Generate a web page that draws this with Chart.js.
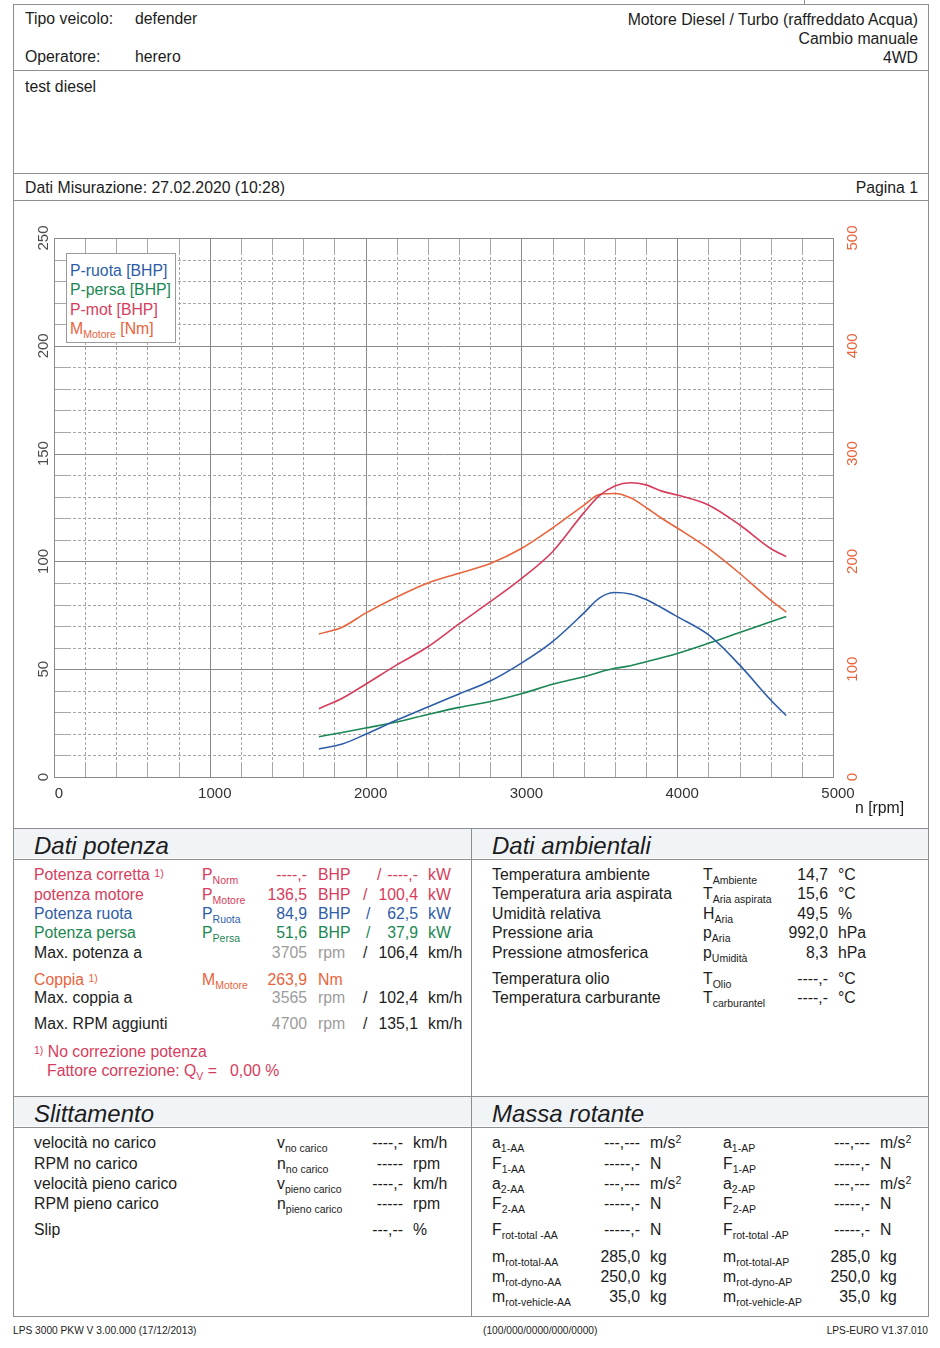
<!DOCTYPE html>
<html lang="it">
<head>
<meta charset="utf-8">
<title>defender - test diesel</title>
<script src="https://cdn.jsdelivr.net/npm/chart.js@4.4.1/dist/chart.umd.min.js"></script>
<style>
  html, body { margin: 0; padding: 0; background: #fff; }
  #page { position: relative; width: 940px; height: 1348px; overflow: hidden;
          font-family: "Liberation Sans", Arial, sans-serif; color: #1c1c1c; }
  .t { position: absolute; white-space: nowrap; font-size: 15.8px; line-height: 18px; }
  .t sub { font-size: 10.5px; vertical-align: -4px; line-height: 0; }
  .n1 { font-size: 10.5px; position: relative; top: -3px; }
  .sq { font-size: 10.5px; position: relative; top: -5px; }
  .hl { position: absolute; height: 0; border-top: 1px solid #8e8e8e; }
  .vl { position: absolute; width: 0; border-left: 1px solid #8e8e8e; }
  .band { position: absolute; background: #f1f4f7; }
  .h2 { font-size: 24px; font-style: italic; line-height: 26px; }
  .ft { font-size: 10.2px; }
  .red { color: #d63d5c; } .blu { color: #2d5da8; } .grn { color: #1b8752; }
  .ora { color: #e8643c; } .gry { color: #9c9c9c; }
  #chartBox { position: absolute; left: 13px; top: 201px; width: 915px; height: 626px; }
  #legend { position: absolute; left: 66px; top: 253px; width: 108px; height: 88px;
            border: 1px solid #9a9a9a; background: #fff; z-index: 2; }
</style>
</head>
<body>
<div id="page">
  <div class="band" style="left:14px; top:829px; width:914px; height:29px;"></div>
  <div class="band" style="left:14px; top:1097px; width:914px; height:29px;"></div>
  <div id="chartBox"><canvas id="dyno" width="915" height="626"></canvas></div>
  <div id="legend"></div>
</div>
<script>
// engine speed of each sample [rpm]
const rpm = [1700, 1850, 2000, 2200, 2400, 2600, 2800, 3000, 3200, 3400,
             3500, 3600, 3700, 3800, 3900, 4000, 4200, 4400, 4600, 4700];
// wheel power [BHP]
const pRuota = [13.0, 15.3, 19.8, 26.4, 32.5, 38.5, 44.5, 52.8, 62.8, 76.0,
                83.0, 85.6, 84.9, 82.3, 78.5, 74.4, 66.0, 52.0, 35.7, 28.5];
// lost power [BHP]
const pPersa = [18.7, 20.6, 22.7, 25.5, 29.0, 32.3, 35.0, 38.6, 43.0, 46.5,
                48.6, 50.4, 51.6, 53.5, 55.3, 57.3, 62.0, 67.0, 72.0, 74.4];
// engine power [BHP]
const pMot = [31.7, 36.5, 43.0, 52.0, 60.4, 71.0, 81.3, 92.0, 104.5, 122.5,
              130.5, 135.0, 136.5, 135.5, 132.6, 130.8, 126.2, 117.0, 106.0, 102.2];
// engine torque [Nm]
const mMotore = [132.7, 139.0, 152.0, 167.0, 180.0, 189.0, 198.0, 212.0, 231.0, 252.0,
                 262.0, 263.0, 259.0, 250.0, 240.0, 231.0, 212.0, 189.0, 164.0, 153.0];

const rpmTicks = [0, 1000, 2000, 3000, 4000, 5000];
const powerTicks = [0, 50, 100, 150, 200, 250];
const torqueTicks = [0, 100, 200, 300, 400, 500];

const C_BLUE = '#2d5da8', C_GREEN = '#1b8752', C_RED = '#d63d5c', C_ORANGE = '#e8643c';

const page = document.getElementById('page');

function txt(x, yc, html, cls = '', align = 'left') {
  const d = document.createElement('div');
  d.className = 't ' + cls;
  d.innerHTML = html;
  d.style.top = (yc - 9) + 'px';
  if (align === 'right') d.style.right = (940 - x) + 'px';
  else d.style.left = x + 'px';
  page.appendChild(d);
  return d;
}
function hline(y, x1 = 13, x2 = 928) {
  const d = document.createElement('div');
  d.className = 'hl';
  d.style.cssText = `top:${y}px; left:${x1}px; width:${x2 - x1}px;`;
  page.appendChild(d);
}
function vline(x, y1, y2) {
  const d = document.createElement('div');
  d.className = 'vl';
  d.style.cssText = `left:${x}px; top:${y1}px; height:${y2 - y1}px;`;
  page.appendChild(d);
}

// frame
[4, 70, 173, 200, 828, 859, 1096, 1127, 1316].forEach(y => hline(y));
vline(13, 4, 1317); vline(928, 4, 1317); vline(471, 828, 1317); vline(804, 0, 4);

// header
txt(25, 19, 'Tipo veicolo:'); txt(135, 19, 'defender');
txt(25, 57, 'Operatore:'); txt(135, 57, 'herero');
txt(918, 20, 'Motore Diesel / Turbo (raffreddato Acqua)', '', 'right');
txt(918, 39, 'Cambio manuale', '', 'right');
txt(918, 58, '4WD', '', 'right');
txt(25, 87, 'test diesel');
txt(25, 188, 'Dati Misurazione: 27.02.2020 (10:28)');
txt(918, 188, 'Pagina 1', '', 'right');
txt(855, 808, 'n [rpm]');

// legend
const legendItems = [
  ['P-ruota [BHP]', C_BLUE], ['P-persa [BHP]', C_GREEN],
  ['P-mot [BHP]', C_RED], ['M<sub>Motore</sub> [Nm]', C_ORANGE]
];
const lg = document.getElementById('legend');
legendItems.forEach((it, i) => {
  const d = document.createElement('div');
  d.className = 't';
  d.style.cssText = `left:3px; top:${8 + i * 19.3}px; color:${it[1]};`;
  d.innerHTML = it[0];
  lg.appendChild(d);
});

// Dati potenza
txt(34, 842, 'Dati potenza', 'h2');
function powerRow(y, cls, label, sym, v1, u1, v2, u2, slashX = 363) {
  txt(34, y, label, cls);
  if (sym) txt(202, y, sym, cls);
  txt(307, y, v1, cls, 'right'); txt(318, y, u1, cls);
  if (v2 !== undefined) {
    txt(slashX, y, '/', cls); txt(418, y, v2, cls, 'right'); txt(428, y, u2, cls);
  }
}
powerRow(875, 'red', 'Potenza corretta <span class="n1">1)</span>', 'P<sub>Norm</sub>', '----,-', 'BHP', '----,-', 'kW', 377);
powerRow(895, 'red', 'potenza motore', 'P<sub>Motore</sub>', '136,5', 'BHP', '100,4', 'kW');
powerRow(914, 'blu', 'Potenza ruota', 'P<sub>Ruota</sub>', '84,9', 'BHP', '62,5', 'kW', 366);
powerRow(933, 'grn', 'Potenza persa', 'P<sub>Persa</sub>', '51,6', 'BHP', '37,9', 'kW', 366);
function maxRow(y, label, n, v) {
  txt(34, y, label);
  txt(307, y, n, 'gry', 'right'); txt(318, y, 'rpm', 'gry');
  txt(363, y, '/'); txt(418, y, v, '', 'right'); txt(428, y, 'km/h');
}
maxRow(953, 'Max. potenza a', '3705', '106,4');
powerRow(980, 'ora', 'Coppia <span class="n1">1)</span>', 'M<sub>Motore</sub>', '263,9', 'Nm');
maxRow(998, 'Max. coppia a', '3565', '102,4');
maxRow(1024, 'Max. RPM aggiunti', '4700', '135,1');
txt(34, 1052, '<span class="n1">1)</span> No correzione potenza', 'red');
txt(47, 1071, 'Fattore correzione: Q<sub>V</sub> =&nbsp;&nbsp; 0,00 %', 'red');

// Dati ambientali
txt(492, 842, 'Dati ambientali', 'h2');
[
  [875, 'Temperatura ambiente', 'T<sub>Ambiente</sub>', '14,7', '°C'],
  [894, 'Temperatura aria aspirata', 'T<sub>Aria aspirata</sub>', '15,6', '°C'],
  [914, 'Umidità relativa', 'H<sub>Aria</sub>', '49,5', '%'],
  [933, 'Pressione aria', 'p<sub>Aria</sub>', '992,0', 'hPa'],
  [953, 'Pressione atmosferica', 'p<sub>Umidità</sub>', '8,3', 'hPa'],
  [979, 'Temperatura olio', 'T<sub>Olio</sub>', '----,-', '°C'],
  [998, 'Temperatura carburante', 'T<sub>carburantel</sub>', '----,-', '°C']
].forEach(r => {
  txt(492, r[0], r[1]); txt(703, r[0], r[2]);
  txt(828, r[0], r[3], '', 'right'); txt(838, r[0], r[4]);
});

// Slittamento
txt(34, 1110, 'Slittamento', 'h2');
[
  [1143, 'velocità no carico', 'v<sub>no carico</sub>', '----,-', 'km/h'],
  [1164, 'RPM no carico', 'n<sub>no carico</sub>', '-----', 'rpm'],
  [1184, 'velocità pieno carico', 'v<sub>pieno carico</sub>', '----,-', 'km/h'],
  [1204, 'RPM pieno carico', 'n<sub>pieno carico</sub>', '-----', 'rpm'],
  [1230, 'Slip', '', '---,--', '%']
].forEach(r => {
  txt(34, r[0], r[1]); if (r[2]) txt(277, r[0], r[2]);
  txt(403, r[0], r[3], '', 'right'); txt(413, r[0], r[4]);
});

// Massa rotante
txt(492, 1110, 'Massa rotante', 'h2');
const ms2 = 'm/s<span class="sq">2</span>';
[
  [1143, 'a<sub>1-AA</sub>', '---,---', ms2, 'a<sub>1-AP</sub>', '---,---', ms2],
  [1164, 'F<sub>1-AA</sub>', '-----,-', 'N', 'F<sub>1-AP</sub>', '-----,-', 'N'],
  [1184, 'a<sub>2-AA</sub>', '---,---', ms2, 'a<sub>2-AP</sub>', '---,---', ms2],
  [1204, 'F<sub>2-AA</sub>', '-----,-', 'N', 'F<sub>2-AP</sub>', '-----,-', 'N'],
  [1230, 'F<sub>rot-total -AA</sub>', '-----,-', 'N', 'F<sub>rot-total -AP</sub>', '-----,-', 'N'],
  [1257, 'm<sub>rot-total-AA</sub>', '285,0', 'kg', 'm<sub>rot-total-AP</sub>', '285,0', 'kg'],
  [1277, 'm<sub>rot-dyno-AA</sub>', '250,0', 'kg', 'm<sub>rot-dyno-AP</sub>', '250,0', 'kg'],
  [1297, 'm<sub>rot-vehicle-AA</sub>', '35,0', 'kg', 'm<sub>rot-vehicle-AP</sub>', '35,0', 'kg']
].forEach(r => {
  txt(492, r[0], r[1]); txt(640, r[0], r[2], '', 'right'); txt(650, r[0], r[3]);
  txt(723, r[0], r[4]); txt(870, r[0], r[5], '', 'right'); txt(880, r[0], r[6]);
});

// footer
txt(13, 1331, 'LPS 3000 PKW V 3.00.000 (17/12/2013)', 'ft');
txt(483, 1331, '(100/000/0000/000/0000)', 'ft');
txt(928, 1331, 'LPS-EURO V1.37.010', 'ft', 'right');

// paper-style grid: solid every 1000 rpm / 50 BHP, dashed in between
const paperGrid = {
  id: 'paperGrid',
  beforeDatasetsDraw(chart) {
    const { ctx, chartArea: a, scales: { x, y } } = chart;
    const seg = (x1, y1, x2, y2) => { ctx.beginPath(); ctx.moveTo(x1, y1); ctx.lineTo(x2, y2); ctx.stroke(); };
    const end = 14;
    ctx.save();
    ctx.lineWidth = 1;
    ctx.strokeStyle = '#a6a6a6';
    for (let v = 200; v < 5000; v += 200) {
      if (v % 1000 === 0) continue;
      const px = Math.round(x.getPixelForValue(v)) + 0.5;
      ctx.setLineDash([]);
      seg(px, a.top, px, a.top + end); seg(px, a.bottom - end, px, a.bottom);
      ctx.setLineDash([3, 2]);
      seg(px, a.top + end, px, a.bottom - end);
    }
    for (let v = 10; v < 250; v += 10) {
      if (v % 50 === 0) continue;
      const py = Math.round(y.getPixelForValue(v)) + 0.5;
      ctx.setLineDash([]);
      seg(a.left, py, a.left + end, py); seg(a.right - end, py, a.right, py);
      ctx.setLineDash([3, 2]);
      seg(a.left + end, py, a.right - end, py);
    }
    ctx.setLineDash([]);
    ctx.strokeStyle = '#8a8a8a';
    for (let v = 1000; v < 5000; v += 1000) {
      const px = Math.round(x.getPixelForValue(v)) + 0.5;
      seg(px, a.top, px, a.bottom);
    }
    for (let v = 50; v < 250; v += 50) {
      const py = Math.round(y.getPixelForValue(v)) + 0.5;
      seg(a.left, py, a.right, py);
    }
    ctx.strokeRect(Math.round(a.left) + 0.5, Math.round(a.top) + 0.5,
                   Math.round(a.right - a.left), Math.round(a.bottom - a.top));
    ctx.restore();
  }
};

const pts = arr => rpm.map((r, i) => ({ x: r, y: arr[i] }));
const lineDs = (label, arr, color, axis) => ({
  label, data: pts(arr), yAxisID: axis, borderColor: color, backgroundColor: color,
  borderWidth: 1.6, pointRadius: 0, tension: 0.4, cubicInterpolationMode: 'monotone', fill: false
});

const tickFont = { family: '"Liberation Sans", Arial, sans-serif', size: 15 };
const plain = v => String(v);

new Chart(document.getElementById('dyno').getContext('2d'), {
  type: 'line',
  data: {
    datasets: [
      lineDs('P-ruota [BHP]', pRuota, C_BLUE, 'y'),
      lineDs('P-persa [BHP]', pPersa, C_GREEN, 'y'),
      lineDs('P-mot [BHP]', pMot, C_RED, 'y'),
      lineDs('M Motore [Nm]', mMotore, C_ORANGE, 'y2')
    ]
  },
  options: {
    responsive: false,
    animation: false,
    layout: { padding: { top: 37, left: 0, right: 0, bottom: 0 } },
    plugins: { legend: { display: false }, tooltip: { enabled: false } },
    scales: {
      x: {
        type: 'linear', min: 0, max: 5000,
        afterBuildTicks: s => { s.ticks = rpmTicks.map(v => ({ value: v })); },
        afterFit: s => { s.height = 50; },
        grid: { display: false, drawTicks: false }, border: { display: false },
        ticks: { font: tickFont, color: '#333', padding: 8, labelOffset: 5,
                 maxRotation: 0, autoSkip: false, callback: plain }
      },
      y: {
        position: 'left', min: 0, max: 250,
        afterBuildTicks: s => { s.ticks = powerTicks.map(v => ({ value: v })); },
        afterFit: s => { s.width = 41; },
        grid: { display: false, drawTicks: false }, border: { display: false },
        ticks: { font: tickFont, color: '#4a4a4a', minRotation: 90, maxRotation: 90,
                 crossAlign: 'center', padding: -2, autoSkip: false, callback: plain }
      },
      y2: {
        position: 'right', min: 0, max: 500,
        afterBuildTicks: s => { s.ticks = torqueTicks.map(v => ({ value: v })); },
        afterFit: s => { s.width = 95; },
        grid: { display: false, drawTicks: false }, border: { display: false },
        ticks: { font: tickFont, color: C_ORANGE, minRotation: 90, maxRotation: 90,
                 crossAlign: 'center', padding: 7, autoSkip: false, callback: plain }
      }
    }
  },
  plugins: [paperGrid]
});
</script>
</body>
</html>
